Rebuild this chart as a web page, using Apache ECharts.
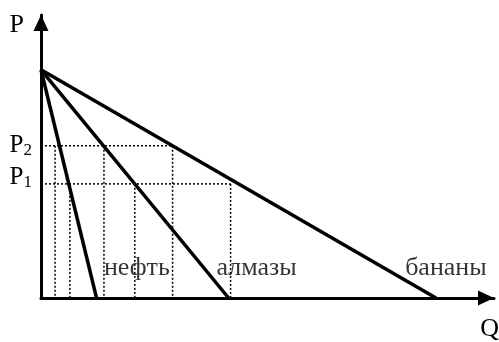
<!DOCTYPE html>
<html>
<head>
<meta charset="utf-8">
<script src="https://cdn.jsdelivr.net/npm/echarts@6/dist/echarts.min.js"></script>
<style>
  html, body { margin: 0; padding: 0; background: #fff; }
  #chart { width: 499px; height: 342px; }
</style>
</head>
<body>
<div id="chart"></div>
<script>
// demand curves: all start from the same price intercept
const priceIntercept = 10;
const goods = ['нефть', 'алмазы', 'бананы'];
const qIntercepts = [2.25, 7.6, 16];
const labelPos = [[2.55, 1.32], [7.11, 1.32], [14.75, 1.32]];

// price levels and the quantities marked by dotted lines
const p1 = 5;
const p2 = 6.67;
const qAtP2 = [0.57, 2.55, 5.33];
const qAtP1 = [1.17, 3.8, 7.68];

const xMax = 18.35;
const yMax = 12.4;

const font = 'Liberation Serif';
const dotted = { color: '#000', width: 1.5, type: [2, 2] };

let chart = echarts.init(document.getElementById('chart'));

let series = [];

// dotted helper lines
series.push({
  type: 'line', silent: true, symbol: 'none', lineStyle: dotted,
  data: [[0, p2], [qAtP2[2], p2]]
});
series.push({
  type: 'line', silent: true, symbol: 'none', lineStyle: dotted,
  data: [[0, p1], [qAtP1[2], p1]]
});
qAtP2.forEach(q => {
  series.push({
    type: 'line', silent: true, symbol: 'none', lineStyle: dotted,
    data: [[q, p2], [q, 0]]
  });
});
qAtP1.forEach(q => {
  series.push({
    type: 'line', silent: true, symbol: 'none', lineStyle: dotted,
    data: [[q, p1], [q, 0]]
  });
});

// demand lines
goods.forEach((name, i) => {
  series.push({
    name: name, type: 'line', symbol: 'none', z: 3,
    lineStyle: { color: '#000', width: 3.5 },
    data: [[0, priceIntercept], [qIntercepts[i], 0]]
  });
});

// good names
series.push({
  type: 'scatter', symbolSize: 0, z: 4,
  label: {
    show: true, position: 'right', distance: 0,
    color: '#000', fontFamily: font, fontSize: 26,
    formatter: p => goods[p.dataIndex]
  },
  data: labelPos
});

let option = {
  animation: false,
  textStyle: { fontFamily: font },
  grid: { left: 41, right: 5, top: 15, bottom: 44, outerBoundsMode: 'none', containLabel: false },
  xAxis: {
    type: 'value', min: 0, max: xMax,
    name: 'Q', nameLocation: 'end', nameGap: 0,
    nameTextStyle: {
      color: '#000', fontFamily: font, fontSize: 26,
      align: 'right', verticalAlign: 'top', padding: [18, -5, 0, 0]
    },
    axisLine: {
      onZero: false,
      symbol: ['none', 'triangle'], symbolSize: [15, 16], symbolOffset: [0, -8],
      lineStyle: { color: '#000', width: 3 }
    },
    axisTick: { show: false },
    axisLabel: { show: false },
    splitLine: { show: false }
  },
  yAxis: {
    type: 'value', min: 0, max: yMax,
    name: 'P', nameLocation: 'end', nameGap: -10,
    nameTextStyle: {
      color: '#000', fontFamily: font, fontSize: 26,
      align: 'right', verticalAlign: 'middle', padding: [0, 17, 0, 0]
    },
    axisLine: {
      onZero: false,
      symbol: ['none', 'triangle'], symbolSize: [15, 16], symbolOffset: [0, -8],
      lineStyle: { color: '#000', width: 3 }
    },
    axisTick: { show: false },
    axisLabel: {
      show: true,
      customValues: [p1, p2],
      margin: 9,
      formatter(v) {
        // P1 sits a little above its dotted line
        return v === p1 ? '{p1|P}{s1|1}' : '{p|P}{s|2}';
      },
      rich: {
        p: { color: '#000', fontFamily: font, fontSize: 25 },
        s: { color: '#000', fontFamily: font, fontSize: 17, padding: [10, 0, 0, 0] },
        p1: { color: '#000', fontFamily: font, fontSize: 25, padding: [0, 0, 12, 0] },
        s1: { color: '#000', fontFamily: font, fontSize: 17, padding: [0, 0, 2, 0] }
      }
    },
    splitLine: { show: false }
  },
  series: series
};
chart.setOption(option);
</script>
</body>
</html>
